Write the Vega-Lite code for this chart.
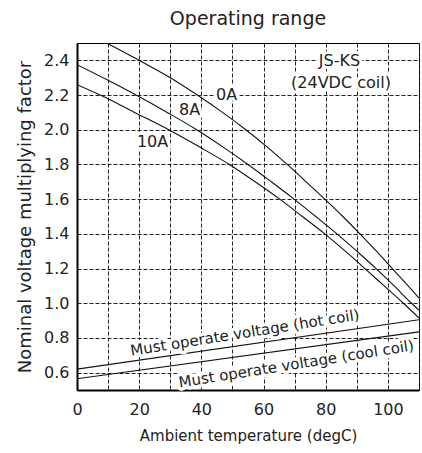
{
  "$schema": "https://vega.github.io/schema/vega-lite/v6.json",
  "width": 342,
  "height": 347,
  "autosize": "none",
  "padding": {"left": 77, "top": 43, "right": 3, "bottom": 63},
  "config": {
    "font": "DejaVu Sans",
    "view": {"stroke": "#000", "strokeWidth": 1},
    "axis": {
      "grid": true,
      "gridDash": [4, 2],
      "gridColor": "#222",
      "gridOpacity": 1,
      "gridWidth": 1,
      "ticks": false,
      "domainColor": "#000",
      "domainWidth": 2,
      "labelFontSize": 16,
      "labelColor": "#222",
      "titleFontSize": 15,
      "titleColor": "#222",
      "titleFontWeight": "normal",
      "labelFlush": false,
      "labelOverlap": false,
      "labelBound": false
    }
  },
  "title": {"text": "Operating range", "fontSize": 19, "fontWeight": "normal", "color": "#222", "offset": 14, "anchor": "middle"},
  "datasets": {
    "curves": [
      {"series": "0A", "t": 9.5, "v": 2.5},
      {"series": "0A", "t": 20, "v": 2.4},
      {"series": "0A", "t": 30, "v": 2.3},
      {"series": "0A", "t": 38.7, "v": 2.2},
      {"series": "0A", "t": 46.8, "v": 2.1},
      {"series": "0A", "t": 54.3, "v": 2.0},
      {"series": "0A", "t": 61.2, "v": 1.9},
      {"series": "0A", "t": 67.6, "v": 1.8},
      {"series": "0A", "t": 73.7, "v": 1.7},
      {"series": "0A", "t": 79.7, "v": 1.6},
      {"series": "0A", "t": 85.5, "v": 1.5},
      {"series": "0A", "t": 91, "v": 1.4},
      {"series": "0A", "t": 96.3, "v": 1.3},
      {"series": "0A", "t": 101.4, "v": 1.2},
      {"series": "0A", "t": 106, "v": 1.11},
      {"series": "0A", "t": 110, "v": 1.03},
      {"series": "8A", "t": 0, "v": 2.375},
      {"series": "8A", "t": 10, "v": 2.285},
      {"series": "8A", "t": 19, "v": 2.2},
      {"series": "8A", "t": 29, "v": 2.1},
      {"series": "8A", "t": 38.5, "v": 2.0},
      {"series": "8A", "t": 47, "v": 1.9},
      {"series": "8A", "t": 55, "v": 1.8},
      {"series": "8A", "t": 62.5, "v": 1.7},
      {"series": "8A", "t": 69.8, "v": 1.6},
      {"series": "8A", "t": 76.8, "v": 1.5},
      {"series": "8A", "t": 83.6, "v": 1.4},
      {"series": "8A", "t": 90, "v": 1.3},
      {"series": "8A", "t": 96.2, "v": 1.2},
      {"series": "8A", "t": 102, "v": 1.1},
      {"series": "8A", "t": 107.6, "v": 1.0},
      {"series": "8A", "t": 110, "v": 0.96},
      {"series": "10A", "t": 0, "v": 2.26},
      {"series": "10A", "t": 7.5, "v": 2.2},
      {"series": "10A", "t": 18.5, "v": 2.1},
      {"series": "10A", "t": 29.5, "v": 2.0},
      {"series": "10A", "t": 39.5, "v": 1.9},
      {"series": "10A", "t": 49, "v": 1.8},
      {"series": "10A", "t": 57.3, "v": 1.7},
      {"series": "10A", "t": 65.2, "v": 1.6},
      {"series": "10A", "t": 72.5, "v": 1.5},
      {"series": "10A", "t": 79.7, "v": 1.4},
      {"series": "10A", "t": 86.3, "v": 1.3},
      {"series": "10A", "t": 92.6, "v": 1.2},
      {"series": "10A", "t": 98.8, "v": 1.1},
      {"series": "10A", "t": 105, "v": 1.0},
      {"series": "10A", "t": 110, "v": 0.915},
      {"series": "hot", "t": 0, "v": 0.62},
      {"series": "hot", "t": 110, "v": 0.905},
      {"series": "cool", "t": 0, "v": 0.565},
      {"series": "cool", "t": 110, "v": 0.835}
    ],
    "labels": [
      {"text": "0A", "t": 48.1, "v": 2.2},
      {"text": "8A", "t": 36.2, "v": 2.116},
      {"text": "10A", "t": 24.3, "v": 1.93},
      {"text": "JS-KS", "t": 84.4, "v": 2.395},
      {"text": "(24VDC coil)", "t": 84.9, "v": 2.27}
    ],
    "coilLabels": [
      {"text": "Must operate voltage (hot coil)", "t": 54, "v": 0.83},
      {"text": "Must operate voltage (cool coil)", "t": 70.5, "v": 0.65}
    ]
  },
  "encoding": {
    "x": {
      "field": "t", "type": "quantitative",
      "scale": {"domain": [0, 110], "nice": false, "zero": false},
      "axis": {
        "values": [0, 10, 20, 30, 40, 50, 60, 70, 80, 90, 100, 110],
        "labelExpr": "datum.value % 20 == 0 && datum.value <= 100 ? datum.label : ''",
        "title": "Ambient temperature (degC)",
        "labelPadding": 11,
        "titlePadding": 11
      }
    },
    "y": {
      "field": "v", "type": "quantitative",
      "scale": {"domain": [0.5, 2.5], "nice": false, "zero": false},
      "axis": {
        "values": [0.6, 0.8, 1.0, 1.2, 1.4, 1.6, 1.8, 2.0, 2.2, 2.4],
        "format": ".1f",
        "title": "Nominal voltage multiplying factor",
        "titleFontSize": 18,
        "labelPadding": 8,
        "titlePadding": 9
      }
    }
  },
  "layer": [
    {
      "data": {"name": "curves"},
      "mark": {"type": "line", "color": "#111", "strokeWidth": 1.1, "interpolate": "monotone", "clip": true},
      "encoding": {
        "detail": {"field": "series", "type": "nominal"}
      }
    },
    {
      "data": {"name": "labels"},
      "mark": {"type": "text", "fontSize": 16, "stroke": "white", "strokeWidth": 6, "strokeJoin": "round", "fill": "white", "align": "center", "baseline": "middle"},
      "encoding": {
        "text": {"field": "text", "type": "nominal"}
      }
    },
    {
      "data": {"name": "labels"},
      "mark": {"type": "text", "fontSize": 16, "color": "#222", "align": "center", "baseline": "middle"},
      "encoding": {
        "text": {"field": "text", "type": "nominal"}
      }
    },
    {
      "data": {"name": "coilLabels"},
      "mark": {"type": "text", "fontSize": 15, "angle": 351, "stroke": "white", "strokeWidth": 7, "strokeJoin": "round", "fill": "white", "align": "center", "baseline": "middle"},
      "encoding": {
        "text": {"field": "text", "type": "nominal"}
      }
    },
    {
      "data": {"name": "coilLabels"},
      "mark": {"type": "text", "fontSize": 15, "angle": 351, "color": "#222", "align": "center", "baseline": "middle"},
      "encoding": {
        "text": {"field": "text", "type": "nominal"}
      }
    }
  ]
}
